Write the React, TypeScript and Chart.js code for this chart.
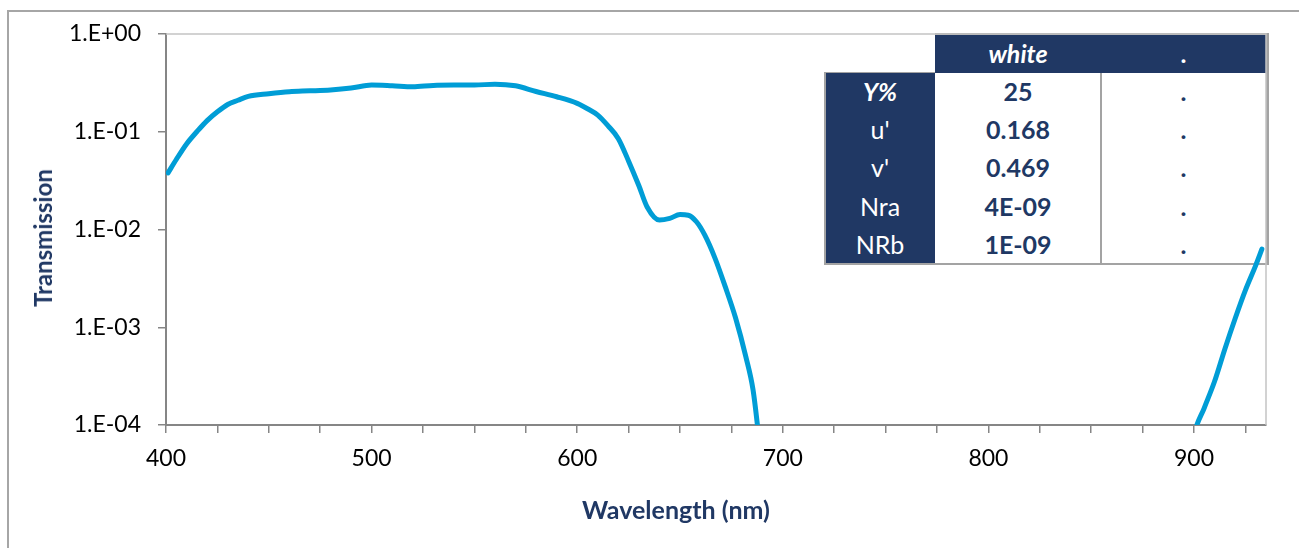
import React, { useEffect, useRef } from 'react';
import { Chart, registerables } from 'chart.js';

Chart.register(...registerables);

// ---- data ----
const WAVELENGTHS = [
  401, 405, 410, 415, 420, 425, 430, 435, 440, 450, 460, 470, 480, 490, 500, 510, 520, 530, 540,
  550, 560, 570, 580, 590, 600, 605, 610, 615, 620, 625, 630, 634, 640, 645, 650, 654, 658, 662,
  667, 672, 677, 682, 685.5, 690, 700, 800, 890, 900, 905, 910, 915, 920, 925, 930, 933,
];
const TRANSMISSION = [
  0.038, 0.052, 0.075, 0.1, 0.13, 0.16, 0.19, 0.21, 0.23, 0.245, 0.257, 0.262, 0.268, 0.28, 0.3,
  0.295, 0.288, 0.298, 0.3, 0.3, 0.307, 0.295, 0.258, 0.228, 0.195, 0.172, 0.148, 0.115, 0.085,
  0.05, 0.028, 0.017, 0.0125, 0.013, 0.0142, 0.014, 0.012, 0.0088, 0.0051, 0.0026, 0.00125,
  0.0005, 0.00023, 0.00004, 0.000005, 0.0000001, 0.000005, 0.00008, 0.00015, 0.00028, 0.0006,
  0.00123, 0.0024, 0.0043, 0.0063,
];
const Y_TICKS = [1e-4, 1e-3, 1e-2, 1e-1, 1];
const Y_TICK_LABELS = ['1.E-04', '1.E-03', '1.E-02', '1.E-01', '1.E+00'];
const X_MIN = 400;
const X_MAX = 935;
const X_MINOR_STEP = 25;
const X_LABEL_STEP = 100;

const TABLE_HEADER = ['', 'white', '.'];
const TABLE_ROW_LABELS = ['Y%', "u'", "v'", 'Nra', 'NRb'];
const TABLE_COL_WHITE = ['25', '0.168', '0.469', '4E-09', '1E-09'];
const TABLE_COL_DOT = ['.', '.', '.', '.', '.'];

// ---- style ----
const NAVY = '#203864';
const LINE = '#009DD6';
const AXIS = '#868686';
const TBORDER = '#a3a3a3';
const FONT = 'Lato, "Open Sans", sans-serif';

const PLOT_LEFT = 166;
const PLOT_TOP = 34;
const PLOT_RIGHT = 1266;
const PLOT_BOTTOM = 425;
const W = 1299;
const H = 548;

const plotBorder = {
  id: 'plotBorder',
  beforeDatasetsDraw(chart: any) {
    const { ctx, chartArea } = chart;
    const { left, top, right, bottom } = chartArea;
    ctx.save();
    ctx.strokeStyle = '#c4c4c4';
    ctx.lineWidth = 1.5;
    ctx.beginPath();
    ctx.moveTo(left, top);
    ctx.lineTo(right, top);
    ctx.lineTo(right, bottom);
    ctx.stroke();
    ctx.restore();
  },
};

function Table() {
  const left = 825;
  const top = 34;
  const cw = [110, 166, 165];
  const headH = 38.5;
  const rowH = 38.2;
  const x1 = left + cw[0];
  const x2 = x1 + cw[1];
  const x3 = x2 + cw[2];
  const bodyTop = top + headH;
  const bodyBottom = bodyTop + rowH * 5;
  const abs = (s: React.CSSProperties): React.CSSProperties => ({ position: 'absolute', ...s });
  const cell = (
    l: number,
    t: number,
    w: number,
    h: number,
    text: string,
    color: string,
    bold: boolean,
    italic: boolean,
    key: string
  ) => (
    <div
      key={key}
      style={abs({
        left: l,
        top: t,
        width: w,
        height: h,
        display: 'flex',
        alignItems: 'center',
        justifyContent: 'center',
        color,
        fontFamily: FONT,
        fontSize: 25,
        fontWeight: bold ? 700 : 400,
        fontStyle: italic ? 'italic' : 'normal',
        lineHeight: 1,
      })}
    >
      {text}
    </div>
  );
  return (
    <>
      <div style={abs({ left: x1, top, width: x3 - x1, height: headH, background: NAVY })} />
      <div style={abs({ left, top: bodyTop, width: cw[0], height: bodyBottom - bodyTop, background: NAVY })} />
      <div style={abs({ left: x1, top: bodyTop, width: x3 - x1, height: bodyBottom - bodyTop, background: '#fff' })} />
      {/* borders */}
      <div style={abs({ left: x1, top: top - 1, width: x3 - x1 + 2, height: 2, background: TBORDER })} />
      <div style={abs({ left: x3, top: top - 1, width: 2.5, height: bodyBottom - top + 2, background: TBORDER })} />
      <div style={abs({ left: left - 1, top: bodyTop - 1, width: cw[0] + 1, height: 1.5, background: TBORDER })} />
      <div style={abs({ left: left - 1, top: bodyTop - 1, width: 2, height: bodyBottom - bodyTop + 2, background: TBORDER })} />
      <div style={abs({ left: left - 1, top: bodyBottom - 1, width: x3 - left + 3.5, height: 2, background: TBORDER })} />
      <div style={abs({ left: x2 - 1, top: bodyTop, width: 2, height: bodyBottom - bodyTop, background: TBORDER })} />
      {cell(x1, top, cw[1], headH, TABLE_HEADER[1], '#fff', true, true, 'h1')}
      {cell(x2, top, cw[2], headH, TABLE_HEADER[2], '#fff', true, false, 'h2')}
      {TABLE_ROW_LABELS.map((lab, i) =>
        cell(left, bodyTop + rowH * i, cw[0], rowH, lab, '#fff', i === 0, i === 0, 'l' + i)
      )}
      {TABLE_COL_WHITE.map((v, i) => cell(x1, bodyTop + rowH * i, cw[1], rowH, v, NAVY, true, false, 'a' + i))}
      {TABLE_COL_DOT.map((v, i) => cell(x2, bodyTop + rowH * i, cw[2], rowH, v, NAVY, true, false, 'b' + i))}
    </>
  );
}

export default function App() {
  const ref = useRef<HTMLCanvasElement | null>(null);

  useEffect(() => {
    if (!ref.current) return;
    const data = WAVELENGTHS.map((x, i) => ({ x, y: TRANSMISSION[i] }));
    const chart = new Chart(ref.current, {
      type: 'line',
      data: {
        datasets: [
          {
            data,
            borderColor: LINE,
            borderWidth: 5,
            pointRadius: 0,
            fill: false,
            cubicInterpolationMode: 'monotone',
            borderCapStyle: 'round',
            borderJoinStyle: 'round',
          } as any,
        ],
      },
      options: {
        animation: false,
        responsive: false,
        events: [],
        layout: { padding: { left: 0, top: PLOT_TOP, right: W - PLOT_RIGHT, bottom: 0 } },
        plugins: { legend: { display: false }, tooltip: { enabled: false }, title: { display: false } },
        scales: {
          x: {
            type: 'linear',
            min: X_MIN,
            max: X_MAX,
            afterFit: (s: any) => {
              s.height = H - PLOT_BOTTOM;
            },
            ticks: {
              stepSize: X_MINOR_STEP,
              includeBounds: false,
              autoSkip: false,
              maxRotation: 0,
              padding: 12,
              color: '#000',
              font: { family: FONT, size: 23 },
              callback: (v: any) => (Number(v) % X_LABEL_STEP === 0 ? String(v) : ''),
            },
            grid: { drawOnChartArea: false, drawTicks: true, tickLength: 8, color: AXIS, lineWidth: 1.5 },
            border: { color: AXIS, width: 2 },
          },
          y: {
            type: 'logarithmic',
            min: Y_TICKS[0],
            max: Y_TICKS[Y_TICKS.length - 1],
            afterFit: (s: any) => {
              s.width = PLOT_LEFT;
            },
            afterBuildTicks: (s: any) => {
              s.ticks = Y_TICKS.map((v) => ({ value: v }));
            },
            ticks: {
              autoSkip: false,
              padding: 17,
              color: '#000',
              font: { family: FONT, size: 23 },
              callback: (v: any) => {
                const idx = Y_TICKS.findIndex((t) => Math.abs(Math.log10(t) - Math.log10(Number(v))) < 1e-6);
                return idx >= 0 ? Y_TICK_LABELS[idx] : '';
              },
            },
            grid: { drawOnChartArea: false, drawTicks: true, tickLength: 8, color: AXIS, lineWidth: 1.5 },
            border: { color: AXIS, width: 2 },
          },
        },
      } as any,
      plugins: [plotBorder],
    });
    return () => chart.destroy();
  }, []);

  return (
    <div style={{ position: 'absolute', left: 0, top: 0, width: W, height: H, overflow: 'hidden', background: '#fff' }}>
      <div
        style={{
          position: 'absolute',
          left: 7,
          top: 10,
          width: W - 7,
          height: H - 10,
          borderLeft: '2px solid #a6a6a6',
          borderTop: '2px solid #a6a6a6',
          boxSizing: 'border-box',
        }}
      />
      <Table />
      <canvas ref={ref} width={W} height={H} style={{ position: 'absolute', left: 0, top: 0, width: W, height: H }} />
      <div
        style={{
          position: 'absolute',
          left: 43,
          top: 238,
          transform: 'translate(-50%, -50%) rotate(-90deg)',
          whiteSpace: 'nowrap',
          fontFamily: FONT,
          fontWeight: 700,
          fontSize: 24,
          color: NAVY,
          lineHeight: 1,
        }}
      >
        Transmission
      </div>
      <div
        style={{
          position: 'absolute',
          left: 676,
          top: 509,
          transform: 'translate(-50%, -50%)',
          whiteSpace: 'nowrap',
          fontFamily: FONT,
          fontWeight: 700,
          fontSize: 25,
          color: NAVY,
          lineHeight: 1,
        }}
      >
        Wavelength (nm)
      </div>
    </div>
  );
}
